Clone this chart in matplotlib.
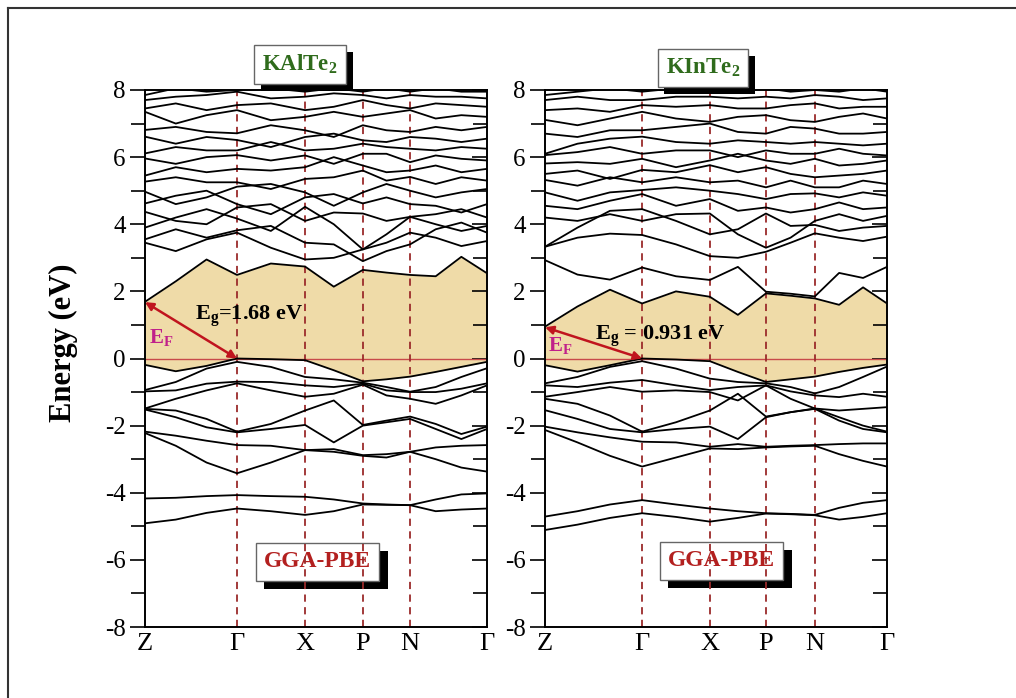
import matplotlib
matplotlib.use("Agg")
import matplotlib.pyplot as plt
import matplotlib.patheffects as pe
from matplotlib.lines import Line2D, TICKLEFT

plt.rcParams['font.family'] = ['Liberation Serif', 'DejaVu Serif']
plt.rcParams['mathtext.fontset'] = 'custom'
plt.rcParams['mathtext.rm'] = 'Liberation Serif'
plt.rcParams['mathtext.bf'] = 'Liberation Serif:bold'
plt.rcParams['mathtext.it'] = 'Liberation Serif:italic'
plt.rcParams['axes.unicode_minus'] = False

# ---------------- data ----------------
kpath_labels = ['Z', 'Γ', 'X', 'P', 'N', 'Γ']

# high-symmetry positions (fraction of path) for each compound
ticks_al = [0.0, 0.269, 0.468, 0.637, 0.775, 1.0]
ticks_in = [0.0, 0.284, 0.482, 0.646, 0.789, 1.0]

# k sampling points along the path
k_al = [0.0, 0.09, 0.18, 0.269, 0.368, 0.468, 0.552, 0.637, 0.706, 0.775, 0.85, 0.925, 1.0]
k_in = [0.0, 0.095, 0.19, 0.284, 0.383, 0.482, 0.564, 0.646, 0.718, 0.789, 0.86, 0.93, 1.0]

# KAlTe2 bands (eV)
val_al = [
    [-0.19, -0.38, -0.22, 0.00, -0.02, -0.05, -0.35, -0.68, -0.62, -0.54, -0.40, -0.25, -0.10],
    [-0.94, -0.70, -0.30, -0.10, -0.25, -0.55, -0.62, -0.72, -0.85, -0.99, -0.85, -0.55, -0.29],
    [-0.98, -0.95, -0.75, -0.69, -0.70, -0.80, -0.85, -0.75, -0.95, -1.00, -1.00, -0.90, -0.74],
    [-1.49, -1.20, -0.95, -0.74, -0.95, -1.14, -1.05, -0.78, -1.10, -1.20, -1.35, -1.10, -0.80],
    [-1.50, -1.55, -1.80, -2.18, -1.95, -1.55, -1.25, -1.98, -1.85, -1.73, -1.95, -2.25, -2.03],
    [-1.52, -1.75, -2.05, -2.20, -2.10, -1.98, -2.50, -2.00, -1.90, -1.80, -2.10, -2.40, -2.10],
    [-2.18, -2.30, -2.45, -2.58, -2.60, -2.73, -2.70, -2.88, -2.85, -2.78, -2.65, -2.60, -2.58],
    [-2.22, -2.60, -3.10, -3.42, -3.10, -2.73, -2.78, -2.90, -2.95, -2.78, -3.00, -3.25, -3.37],
    [-4.17, -4.15, -4.10, -4.07, -4.10, -4.12, -4.20, -4.32, -4.35, -4.37, -4.20, -4.05, -4.02],
    [-4.91, -4.80, -4.60, -4.47, -4.55, -4.66, -4.55, -4.35, -4.36, -4.37, -4.55, -4.50, -4.47],
]
con_al = [
    [1.69, 2.30, 2.95, 2.49, 2.83, 2.74, 2.14, 2.64, 2.56, 2.49, 2.45, 3.03, 2.54],
    [3.45, 3.20, 3.55, 3.75, 3.30, 2.95, 3.00, 3.25, 3.45, 3.75, 3.60, 3.35, 3.50],
    [3.55, 3.85, 3.60, 3.82, 3.95, 3.45, 3.40, 2.90, 3.20, 3.40, 3.85, 4.05, 3.75],
    [3.90, 4.20, 4.45, 4.17, 3.80, 4.52, 4.00, 3.25, 3.70, 4.22, 4.00, 3.80, 3.95],
    [4.37, 4.10, 4.00, 4.50, 4.60, 4.10, 4.35, 4.32, 4.10, 4.22, 4.30, 4.45, 4.20],
    [4.62, 4.85, 5.00, 4.60, 4.30, 4.80, 4.90, 4.62, 4.80, 4.60, 4.55, 4.35, 4.60],
    [4.97, 4.60, 4.80, 5.12, 5.20, 4.95, 4.55, 4.95, 5.20, 5.00, 4.80, 4.95, 5.05],
    [5.27, 5.40, 5.25, 5.25, 5.05, 5.35, 5.40, 5.60, 5.30, 5.41, 5.20, 5.40, 5.30],
    [5.45, 5.70, 5.55, 5.65, 5.60, 5.70, 6.00, 5.75, 5.55, 5.60, 5.75, 5.55, 5.65],
    [5.96, 5.80, 6.00, 6.06, 5.90, 6.05, 5.80, 6.10, 6.10, 5.85, 6.05, 5.95, 5.90],
    [6.11, 6.30, 6.20, 6.20, 6.45, 6.20, 6.25, 6.40, 6.30, 6.25, 6.20, 6.30, 6.25],
    [6.61, 6.40, 6.60, 6.51, 6.30, 6.60, 6.70, 6.50, 6.45, 6.60, 6.55, 6.45, 6.55],
    [6.81, 6.90, 6.75, 6.71, 6.95, 6.80, 6.60, 6.95, 6.80, 6.75, 6.90, 6.80, 6.90],
    [7.35, 7.00, 7.25, 7.40, 7.10, 7.20, 7.35, 7.20, 7.30, 7.40, 7.15, 7.25, 7.20],
    [7.45, 7.60, 7.40, 7.55, 7.60, 7.40, 7.50, 7.70, 7.55, 7.45, 7.60, 7.55, 7.50],
    [7.70, 7.80, 7.85, 7.95, 7.75, 7.80, 7.90, 7.85, 7.75, 7.85, 7.80, 7.80, 7.75],
    [7.85, 8.05, 7.95, 8.00, 8.05, 7.95, 8.05, 7.95, 8.05, 7.95, 8.05, 7.95, 7.95],
]

# KInTe2 bands (eV)
val_in = [
    [-0.20, -0.39, -0.20, 0.00, -0.03, -0.08, -0.40, -0.70, -0.62, -0.54, -0.40, -0.28, -0.18],
    [-0.74, -0.55, -0.25, -0.08, -0.30, -0.60, -0.70, -0.74, -0.85, -1.04, -0.85, -0.55, -0.24],
    [-0.80, -0.85, -0.72, -0.64, -0.80, -0.94, -0.85, -0.80, -0.98, -1.10, -1.15, -1.05, -1.14],
    [-1.14, -1.00, -0.85, -0.99, -0.95, -1.00, -1.25, -0.80, -1.20, -1.49, -1.55, -1.50, -1.45],
    [-1.20, -1.35, -1.70, -2.18, -1.90, -1.55, -1.05, -1.73, -1.60, -1.49, -1.75, -2.00, -2.18],
    [-1.54, -1.80, -2.10, -2.20, -2.10, -2.03, -2.40, -1.75, -1.60, -1.50, -1.85, -2.10, -2.20],
    [-2.03, -2.20, -2.35, -2.48, -2.50, -2.63, -2.55, -2.63, -2.60, -2.58, -2.55, -2.53, -2.53],
    [-2.13, -2.50, -2.90, -3.22, -2.95, -2.68, -2.70, -2.65, -2.62, -2.60, -2.85, -3.05, -3.22],
    [-4.71, -4.55, -4.35, -4.22, -4.35, -4.47, -4.55, -4.61, -4.63, -4.66, -4.45, -4.30, -4.22],
    [-5.11, -4.95, -4.75, -4.61, -4.72, -4.86, -4.75, -4.62, -4.64, -4.67, -4.80, -4.72, -4.61],
]
con_in = [
    [0.95, 1.55, 2.05, 1.64, 2.00, 1.84, 1.30, 1.94, 1.87, 1.79, 1.60, 2.12, 1.64],
    [2.93, 2.50, 2.35, 2.71, 2.45, 2.34, 2.73, 1.99, 1.93, 1.85, 2.55, 2.40, 2.73],
    [3.33, 3.60, 3.72, 3.68, 3.40, 3.05, 3.00, 3.18, 3.45, 3.73, 3.60, 3.50, 3.63],
    [3.33, 3.90, 4.40, 4.45, 4.10, 3.70, 3.85, 4.32, 3.95, 3.98, 3.80, 3.90, 3.95],
    [4.20, 4.10, 4.30, 4.10, 4.30, 4.32, 3.70, 3.30, 3.60, 4.10, 4.30, 4.10, 4.25],
    [4.55, 4.45, 4.70, 4.90, 4.55, 4.75, 4.40, 4.50, 4.35, 4.45, 4.65, 4.45, 4.50],
    [4.95, 4.70, 4.95, 5.02, 5.10, 5.00, 4.90, 4.75, 4.90, 4.92, 4.80, 4.95, 4.85],
    [5.32, 5.15, 5.40, 5.25, 5.40, 5.25, 5.30, 5.10, 5.30, 5.10, 5.10, 5.30, 5.20],
    [5.50, 5.60, 5.35, 5.62, 5.55, 5.76, 5.55, 5.70, 5.50, 5.40, 5.45, 5.50, 5.60],
    [5.81, 5.85, 5.80, 5.95, 5.70, 5.90, 6.10, 5.90, 5.80, 5.95, 5.75, 5.80, 5.90],
    [6.06, 6.15, 6.30, 6.10, 6.20, 6.20, 6.00, 6.20, 6.10, 6.10, 6.25, 6.10, 6.05],
    [6.10, 6.40, 6.55, 6.61, 6.45, 6.40, 6.50, 6.45, 6.40, 6.45, 6.40, 6.35, 6.40],
    [6.70, 6.60, 6.80, 6.80, 6.90, 7.00, 6.75, 6.70, 6.90, 6.85, 6.70, 6.70, 6.75],
    [7.11, 6.95, 7.15, 7.35, 7.15, 7.05, 7.20, 7.25, 7.10, 7.05, 7.20, 7.30, 7.15],
    [7.40, 7.45, 7.35, 7.55, 7.50, 7.55, 7.45, 7.45, 7.55, 7.60, 7.45, 7.50, 7.50],
    [7.70, 7.80, 7.70, 7.70, 7.80, 7.80, 7.75, 7.80, 7.75, 7.85, 7.80, 7.70, 7.75],
    [7.85, 7.95, 8.05, 7.95, 8.05, 8.05, 7.95, 8.05, 7.95, 8.00, 7.95, 8.05, 7.95],
]

titles = [r'KAlTe$_\mathbf{2}$', r'KInTe$_\mathbf{2}$']
gap_labels = [r'E$_\mathbf{g}$=1.68 eV', r'E$_\mathbf{g}$ = 0.931 eV']
gaps = [1.68, 0.931]

# ---------------- figure ----------------
W, H = 1016, 698
fig = plt.figure(figsize=(W / 100, H / 100), dpi=100)

# outer frame (top and left)
fig.add_artist(Line2D([8 / W, 1.0], [1 - 8 / H, 1 - 8 / H], color='#333333', lw=1.5))
fig.add_artist(Line2D([8 / W, 8 / W], [0.0, 1 - 8 / H], color='#333333', lw=1.5))

ax_h = 537 / H
ax_b = 1 - 627 / H
ax_w = 342 / W
axL = fig.add_axes([145 / W, ax_b, ax_w, ax_h])
axR = fig.add_axes([545 / W, ax_b, ax_w, ax_h])

panels = [
    (axL, k_al, ticks_al, val_al, con_al),
    (axR, k_in, ticks_in, val_in, con_in),
]
title_pos = [(0.453, 1.047), (0.461, 1.041)]
gga_pos = [(0.504, -6.06), (0.516, -6.03)]
gap_text_pos = [(0.147, 1.15), (0.146, 0.55)]
ef_pos = [(0.012, 0.45), (0.010, 0.22)]

dash_col = '#9b2b2b'
fill_col = '#efdba8'

for i, (ax, k, ticks, val, con) in enumerate(panels):
    ax.set_xlim(0, 1)
    ax.set_ylim(-8, 8)
    ax.fill_between(k, val[0], con[0], color=fill_col, lw=0, zorder=0)
    for b in val + con:
        ax.plot(k, b, color='black', lw=1.3, zorder=3)
    ax.axhline(0, color='#c84a4a', lw=1.0, zorder=2)
    for t in ticks[1:-1]:
        ax.axvline(t, color=dash_col, lw=1.3, ls=(0, (4, 3)), zorder=2.5)

    ax.set_xticks(ticks)
    ax.set_xticklabels(kpath_labels, fontsize=19)
    ax.tick_params(axis='x', length=0, pad=4)
    ax.set_yticks(range(-8, 9, 2))
    ax.set_yticks(range(-7, 8, 2), minor=True)
    ax.tick_params(axis='y', which='major', direction='out', left=True, right=True,
                   length=11, width=1.2, labelsize=18, pad=3)
    ax.tick_params(axis='y', which='minor', direction='out', left=True, right=True,
                   length=10, width=1.2)
    for s in ax.spines.values():
        s.set_linewidth(1.4)

    tx, ty = title_pos[i]
    t = ax.text(tx, ty, titles[i], transform=ax.transAxes, ha='center', va='center',
                fontsize=16.5, fontweight='bold', color='#2f6b1c',
                bbox=dict(boxstyle='square,pad=0.35', fc='white', ec='#666666', lw=1.0),
                zorder=5)
    t.get_bbox_patch().set_path_effects([
        pe.SimplePatchShadow(offset=(5, -5), shadow_rgbFace='black', alpha=1.0),
        pe.Normal()])

    gx, gy = gga_pos[i]
    g = ax.text(gx, gy, 'GGA-PBE', ha='center', va='center', fontsize=17,
                fontweight='bold', color='#b3201f',
                bbox=dict(boxstyle='square,pad=0.35', fc='white', ec='#666666', lw=1.0),
                zorder=1.5)
    g.get_bbox_patch().set_path_effects([
        pe.SimplePatchShadow(offset=(6, -6), shadow_rgbFace='black', alpha=1.0),
        pe.Normal()])

    ax.annotate('', xy=(ticks[1], 0.0), xytext=(0.0, gaps[i]),
                arrowprops=dict(arrowstyle='<|-|>', color='#c0141e', lw=1.8,
                                mutation_scale=12, shrinkA=0, shrinkB=0), zorder=6)
    gxp, gyp = gap_text_pos[i]
    ax.text(gxp, gyp, gap_labels[i], fontsize=16, fontweight='bold', color='black',
            ha='left', va='baseline', zorder=6)
    ex, ey = ef_pos[i]
    ax.text(ex, ey, r'E$_\mathbf{F}$', fontsize=15, fontweight='bold', color='#c0208a',
            ha='left', va='baseline', zorder=6)

axL.set_ylabel('Energy (eV)', fontsize=22, fontweight='bold')
axL.yaxis.set_label_coords(-0.195, 0.53)

# right-side ticks point inward, left-side ticks point outward
for ax in (axL, axR):
    for tk in ax.yaxis.get_major_ticks() + ax.yaxis.get_minor_ticks():
        tk.tick2line.set_marker(TICKLEFT)

fig.savefig('out.png', dpi=100)
